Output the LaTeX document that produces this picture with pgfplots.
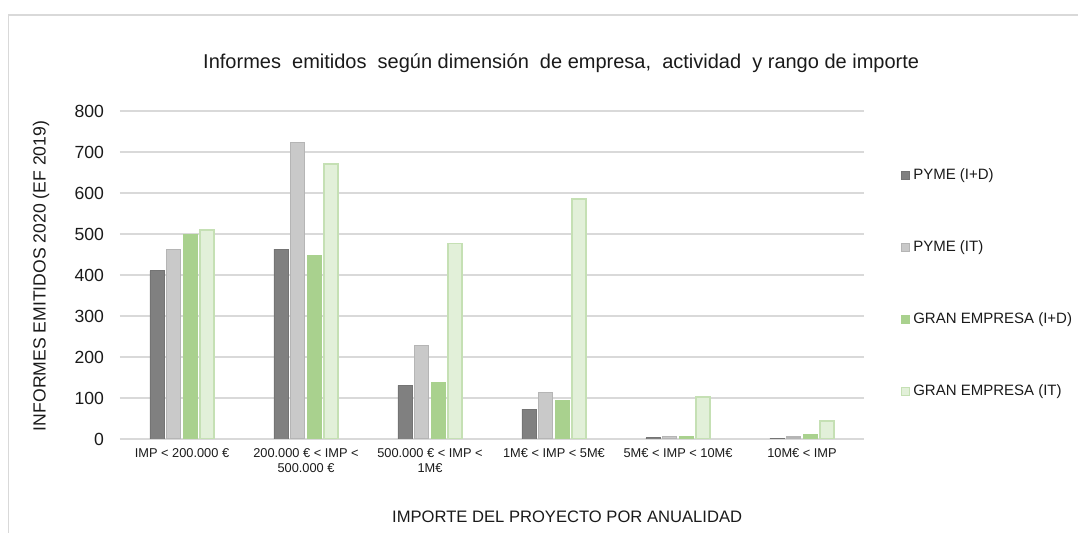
\documentclass[border=0pt]{standalone}
\usepackage{fontspec}
\setmainfont{Liberation Sans}
\usepackage{pgfplots}
\pgfplotsset{compat=1.18}

\definecolor{pymeid}{HTML}{808080}
\definecolor{pymeidb}{HTML}{747474}
\definecolor{pymeit}{HTML}{C9C9C9}
\definecolor{pymeitb}{HTML}{B5B5B5}
\definecolor{geid}{HTML}{A9D18E}
\definecolor{geit}{HTML}{E2F0D9}
\definecolor{geitb}{HTML}{C5E0B4}
\definecolor{gridc}{HTML}{D9D9D9}
\definecolor{txt}{HTML}{1A1A1A}

\begin{document}
\begin{tikzpicture}[x=0.5pt,y=0.5pt]
  \useasboundingbox (0,0) rectangle (1078,533);
  \draw[gridc, line width=0.8pt] (8.5,0) -- (8.5,518) -- (1078,518);

  \begin{axis}[
      at={(60pt,47pt)}, anchor=south west,
      scale only axis,
      width=372pt, height=164pt,
      ybar=1.35pt,
      bar width=7pt,
      xmin=-0.5, xmax=5.5,
      ymin=0, ymax=800,
      xtick=data,
      xticklabels={IMP < 200.000 €, 200.000 € < IMP <\\500.000 €, 500.000 € < IMP <\\1M€, 1M€ < IMP < 5M€, 5M€ < IMP < 10M€, 10M€ < IMP},
      ytick={0,100,...,800},
      major tick length=0pt,
      axis line style={draw=none},
      ymajorgrids,
      grid style={gridc, line width=0.7pt},
      xticklabel style={font=\fontsize{6.4}{7.4}\selectfont, text=txt, align=center, yshift=-1.5pt},
      yticklabel style={font=\fontsize{8.8}{10}\selectfont, text=txt, xshift=-4.5pt},
      /pgf/number format/assume math mode=true,
      ylabel={INFORMES EMITIDOS 2020 (EF 2019)},
      ylabel style={font=\fontsize{8.8}{10}\selectfont, text=txt, at={(axis description cs:-0.106,0.497)}, anchor=center},
      xlabel={IMPORTE DEL PROYECTO POR ANUALIDAD},
      xlabel style={font=\fontsize{8.3}{9.5}\selectfont, text=txt, at={(axis description cs:0.601,-0.238)}, anchor=center},
      title={Informes\ \ emitidos\ \ según dimensión\ \ de empresa,\ \ actividad\ \ y rango de importe},
      title style={font=\fontsize{10}{12}\selectfont, text=txt, at={(axis description cs:0.593,1.108)}, anchor=center},
      legend style={draw=none, fill=none, at={(1.041,0.838)}, anchor=north west,
        font=\fontsize{7.5}{8.5}\selectfont, text=txt,
        row sep=28.8pt, column sep=1.8pt,
        nodes={inner sep=0pt, text height=5.6pt, text depth=1.6pt}},
      legend cell align=left,
      legend image code/.code={\draw[#1, line width=0.4pt] (0pt,-2pt) rectangle (4pt,2pt);},
    ]
    \addplot[fill=pymeid, draw=pymeidb, line width=0.4pt] coordinates {(0,410) (1,463) (2,131) (3,73) (4,3) (5,2)};
    \addplot[fill=pymeit, draw=pymeitb, line width=0.6pt] coordinates {(0,463) (1,723) (2,228) (3,113) (4,6) (5,5)};
    \addplot[fill=geid, draw=geid, line width=0.4pt] coordinates {(0,500) (1,448) (2,137) (3,93) (4,7) (5,10)};
    \addplot[fill=geit, draw=geitb, line width=0.7pt] coordinates {(0,510) (1,671) (2,477) (3,585) (4,102) (5,44)};
    \legend{PYME (I+D), PYME (IT), GRAN EMPRESA (I+D), GRAN EMPRESA (IT)}
  \end{axis}
\end{tikzpicture}
\end{document}
